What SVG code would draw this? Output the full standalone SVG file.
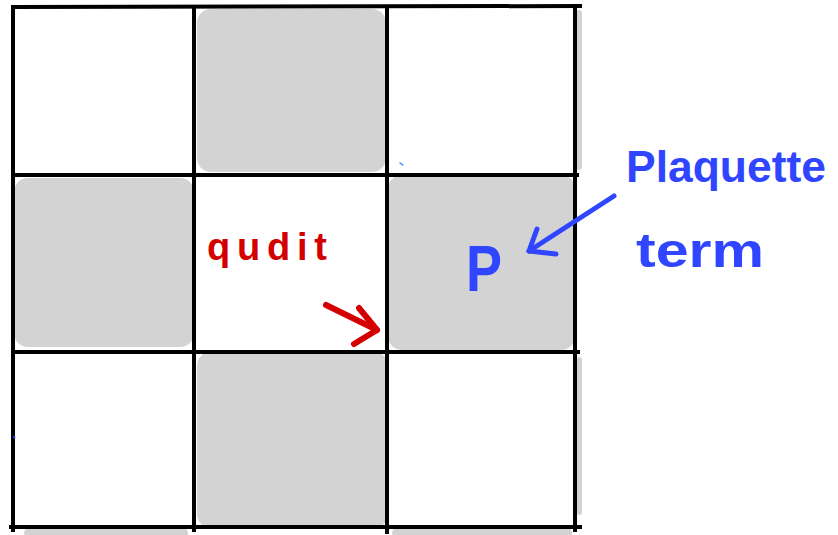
<svg xmlns="http://www.w3.org/2000/svg" width="838" height="535" viewBox="0 0 838 535">
<style>
.cell{fill:#d3d3d3}
.grid line{stroke:#000;stroke-width:4;stroke-linecap:square}
.hand{font-family:"Liberation Sans","DejaVu Sans",sans-serif;font-weight:bold}
.red{fill:#d40000}
.blue{fill:#2f45ff}
</style>
<rect width="838" height="535" fill="#fff"/>
<g id="plaquettes">
<rect id="cell-top" class="cell" x="197" y="9" width="189" height="163" rx="14"/>
<rect id="cell-left" class="cell" x="14" y="178" width="180" height="169" rx="14"/>
<rect id="cell-right" class="cell" x="388" y="175" width="187" height="175" rx="14"/>
<rect id="cell-bottom" class="cell" x="197" y="352" width="191" height="176" rx="14"/>
<rect class="cell" x="576" y="10" width="6" height="160" rx="3"/>
<rect class="cell" x="577" y="357" width="5" height="158" rx="2.5"/>
<rect class="cell" x="24" y="528" width="164" height="10" rx="5"/>
<rect class="cell" x="392" y="528" width="180" height="10" rx="5"/>
</g>
<g id="grid" class="grid">
<line x1="13" y1="8" x2="13" y2="530"/>
<line x1="194" y1="8" x2="194" y2="530"/>
<line x1="387" y1="7" x2="387" y2="532"/>
<line x1="575" y1="7" x2="575" y2="530"/>
<line x1="13" y1="7" x2="580" y2="6"/>
<line x1="13" y1="175" x2="577" y2="175"/>
<line x1="17" y1="352" x2="578" y2="352"/>
<line x1="11" y1="527" x2="580" y2="527"/>
</g>
<g id="connectors" fill="none" stroke-linecap="round" stroke-linejoin="round">
<g id="qudit-arrow" stroke="#d40000" stroke-width="6">
<path d="M326 305 L377 330"/>
<path d="M359 308 L377 330 L354 344"/>
</g>
<g id="plaquette-arrow" stroke="#2f45ff" stroke-width="5">
<path d="M614 196 L529 251"/>
<path d="M537 229 L529 251 L556 254"/>
</g>
<path d="M400 163 l3 2" stroke="#3a8cff" stroke-width="1.5"/>
<path d="M14 437 l0.5 0.5" stroke="#2f45ff" stroke-width="2"/>
</g>
<g id="label-qudit"><text class="hand red" x="207" y="260" font-size="38" textLength="120" lengthAdjust="spacing">qudit</text></g>
<g id="label-P"><text class="hand blue" x="466" y="291" font-size="64" textLength="36" lengthAdjust="spacingAndGlyphs">P</text></g>
<g id="label-plaquette"><text class="hand blue" x="626" y="182" font-size="45" textLength="200" lengthAdjust="spacingAndGlyphs">Plaquette</text>
<text class="hand blue" x="636" y="267" font-size="48" textLength="128" lengthAdjust="spacingAndGlyphs">term</text></g>
</svg>
